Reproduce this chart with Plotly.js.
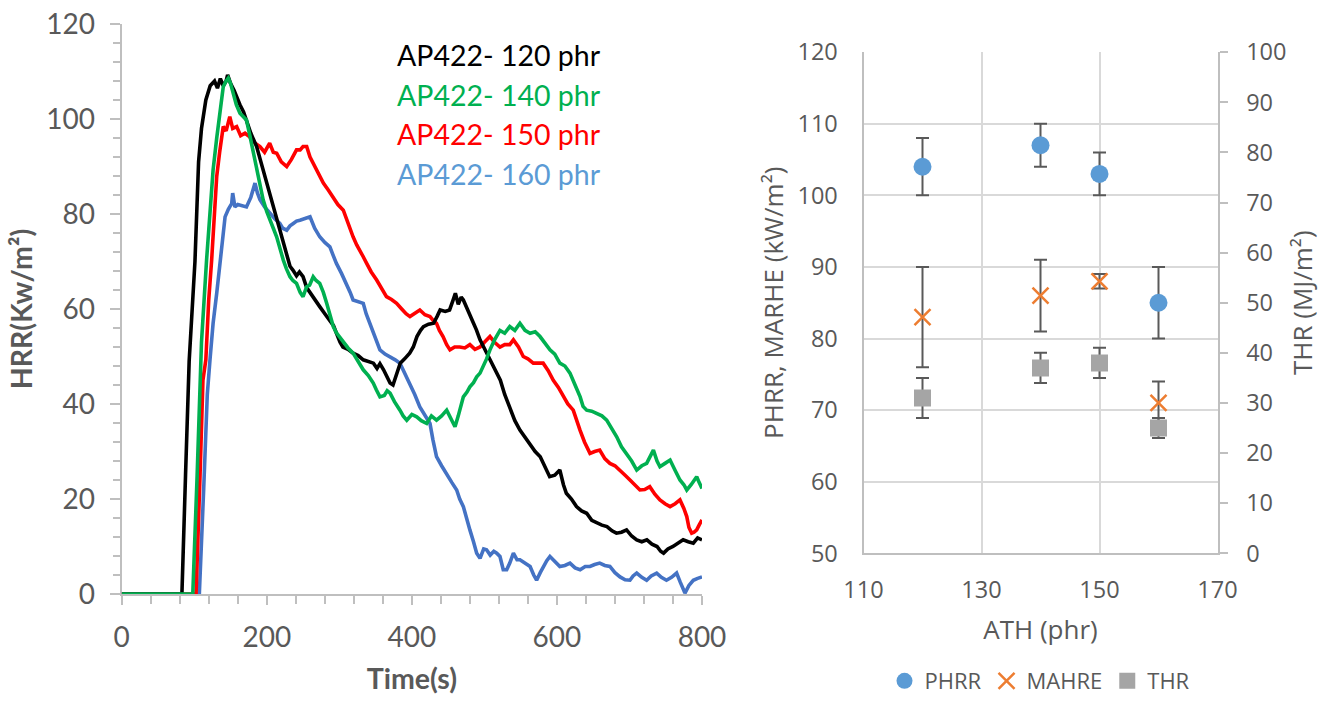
<!DOCTYPE html>
<html>
<head>
<meta charset="utf-8">
<script src="https://cdn.plot.ly/plotly-3.0.1.min.js"></script>
<style>
html,body{margin:0;padding:0;background:#fff;}
#chart{width:1328px;height:702px;}
</style>
</head>
<body>
<div id="chart"></div>
<script>
// ---------- Left panel: HRR curves ----------
const t120 = [0,83,88,93,101,106,110,116,122,128,132,136,140,144,146,150,155,160,163,168,172,178,186,190,195,200,204,210,218,222,227,232,236,241,245,250,255,260,266,273,280,287,292,296,301,305,312,319,326,333,340,347,352,356,361,366,370,374,378,384,390,397,402,407,412,416,423,430,435,439,446,452,456,460,464,468,471,476,480,485,489,494,499,504,508,515,522,528,535,542,549,556,563,570,577,584,590,597,604,609,613,620,627,634,641,648,655,662,669,676,682,689,696,703,710,717,724,731,738,743,747,753,760,767,774,781,788,794,800];
const hrr120 = [0,0,25,49,70,91,98,104,107,108,106.5,108.5,107,108,109.3,107.5,106,104,103,101.5,99.8,97,94.2,92,89.3,86.5,84.4,81,77.3,74.5,71.7,69,68.2,67,67.8,66.8,64.5,63.3,62,60.5,59,57.7,56.5,54.9,53,52,51.5,50.7,50.2,49.3,49,48.6,47.5,48.5,47.2,45.5,44.4,44,46,48.6,49.5,50.7,52,54.2,55.5,56.3,56.8,57,58.5,59.8,59.5,59.8,61.5,63.3,61,62.5,61.9,60,58.4,57,55.6,53.5,52,50.5,49.3,47,45,42,39.4,36.5,34.5,33,31.7,30,28.9,26.5,24.7,25,26.1,23,21.2,20,18.4,17.5,17,15.5,14.9,14.5,14.2,13.3,12.8,13,13.5,12.2,11.4,11,11.4,10.5,10,9,8.6,9.5,10,10.8,11.4,11,10.7,11.8,11.4];

const t140 = [0,98,104,110,117,121,126,131,135.5,140,144,147,150,154,158,163,168,172,176,181.5,186,190,195,200,204,209,213.6,218,222.8,227,232,236,241,246,250,255,259,264,268,273,278,282.6,287,291.7,296,301,305.5,312,319,326,333,340,346.8,351,356,362,366,370,376,383.6,388,393,400,406.7,413,420.5,427,434,441,448,454,459.5,464,471,476,480,485,489.4,494,498.5,503,507.7,514,521.5,528,535,542,549,556,563,570,576.7,583,590.4,597,604,611,618,625,632,636,641,648,655,662,668.6,675,682.4,689,696,703,710,717,723.7,728,733,738,742,749,756,763,769.6,775,779,785,792.7,796,800];
const hrr140 = [0,0,25,53,70.3,80,89.3,96,101.9,106.8,108,108.6,107.5,105.4,103,101.2,100.5,99.8,97,92.8,89.3,86,83,80.5,78.7,77,75.2,72.5,70.3,68.5,66.8,66,65.4,63.5,62.6,64.7,65,66.8,66,65.4,63.5,61.2,58.5,56.3,55,54,52.8,51.8,50.7,49,47.2,46,44.4,43,41.5,41.8,42.8,42.3,40.5,38.7,37.5,36.6,37.8,37.3,36.5,35.9,37.5,36.6,37.5,38.7,37,35.2,37.5,41.5,42.5,43.6,44.5,45.7,46.5,47.8,49.5,51.4,53.5,55.5,54.9,56.3,55.5,57,55.5,54.9,55.2,54.2,52.8,51.4,50.5,48.6,48,46.5,44,41.5,39.5,38.7,38.5,38,37.5,36.6,35,33.1,31,29.6,28,26.1,27,27.5,29,30.3,28,26.8,27.5,28.2,26,24,23,21.9,23,24.7,23.5,22.2];

const t150 = [0,102.5,108,112,116,120,124,128,131,135,138,140,144,149,153,158.5,164,170,176,183,190.6,197,204,209,213.7,220,227.5,234,241,246,250,255,259.6,264,271,278,285,291.7,298,305.5,312,319,324,328.5,333,337.7,344,351.5,358,365,372,379,386,392,397.4,404,411,418,425,430,434,438,443,448,452.6,459,466,473,480,487,494,500,507.7,514,521.5,528,535,540,547,553.6,560,567.4,574,581,588,595,602,608.8,615,622.5,627,631.8,638,645.6,652,659,666,673,680,687,694,700.7,707,714.4,721,728,735,742,749,756,763,769.6,775,779,782,785.8,789,792.7,796,800];
const hrr150 = [0,0,25,45,49.3,62,70.3,82,87.9,93,96.3,98.4,97.5,100.5,98,98.4,96.5,97,96.3,95,94.2,93,94.9,93,92.8,91,90,91.5,93.5,93.5,94.2,94.2,92,90.7,88.5,86.5,85,83.6,82,80.8,78,75.2,73.5,72.4,71,69.6,67.8,66.1,64.5,62.6,62,61.2,60,59,58.4,59,59.8,58.8,58.4,57.5,57,55.5,54.2,52.5,51.4,52,52,51.8,52.5,51.5,52,53,54.2,53,52,52.5,52.5,53.5,52,50,49.5,48.6,48.6,48.6,47,45,43.5,41.5,40,38.7,36.5,34.5,32,29.6,30,30.3,28.5,27.5,27,26.1,25,24,23,21.9,22,22.6,21,19.8,19,18.4,19,19.8,18,16.3,14,12.8,13,13.5,14.5,15.6];

const t160 = [0,107,113,118,121.7,126,131,136,142.5,147,151.6,153,156,160,166,172,178,183.8,187,190.6,197,204,211,218,222,227.5,232,236.6,241,245.7,252,259.6,266,273,280,287,291,296,303,310,315,319,326,333,337,342,349,356,363,370,377,383.6,390,397.4,404,411,418,425,429,434,441,448,455,461.8,466,471,476,480,485,489.4,494,499,503,508,513,517,521.5,526,530.7,535,540,545,549,556,563,568,572,577,581,586,590.4,597,604,611,618,625,632,639,645.6,652,659,666,673,680,687,694,700.7,705,710,717,723.7,730,737.5,744,751,758,765,770,776.5,782,788,794,800];
const hrr160 = [0,0,22,42,49.3,57,63.3,71,79.4,81,82.2,84.4,81.5,82,81.8,81.5,83.5,86.5,84.5,83,81.5,80.1,79,78,77,76.6,77.5,78,78.5,78.7,79,79.4,77,75.2,74,73.1,71.5,69.6,67.5,65.4,63.5,61.9,61.5,61.2,59,57,54,51.4,50.5,50,49.3,48.6,46.5,44.4,42,39.4,37.5,35.9,32.5,28.9,27,25.4,23.5,21.9,20,18.4,16,13.5,11,8.6,7.5,9.5,9.3,8.2,9,8.6,7.9,5.1,5.1,6.5,8.6,7.2,7.2,6.5,5.8,4,2.9,4.5,5.8,7,7.9,6.8,5.8,6,6.5,5.5,5.1,5.8,5.8,6.2,6.5,6,5.8,4.5,3.6,3,2.9,3.8,4.4,3.5,2.9,3.8,4.4,3.5,2.9,3.5,4.4,2.5,0.2,1.8,2.9,3.3,3.6];

const curveNames = ['AP422- 120 phr','AP422- 140 phr','AP422- 150 phr','AP422- 160 phr'];

// ---------- Right panel: PHRR / MAHRE / THR ----------
const ath = [120,140,150,160];
const phrr = [104,107,103,85];
const phrrErr = [4,3,3,5];
const mahre = [83,86,88,71];
const mahreErr = [7,5,1,3];
const thr = [31,37,38,25];
const thrErr = [4,3,3,2];

const leftFont = 'Lato, "Open Sans", sans-serif';
const rightFont = '"Open Sans", "Noto Sans", sans-serif';
const grey = '#595959';
const axisGrey = '#BFBFBF';
const lineColors = ['#000000','#00B050','#FF0000','#4472C4'];
const textColors = ['#000000','#00B050','#FF0000','#5B9BD5'];

const curveT = [t120,t140,t150,t160];
const curveV = [hrr120,hrr140,hrr150,hrr160];

const traces = [];
// drawing order: 160 (bottom), 150, 120, 140 (top)
[3,2,0,1].forEach(i => {
  traces.push({
    x: curveT[i], y: curveV[i], type: 'scatter', mode: 'lines',
    name: curveNames[i], xaxis: 'x', yaxis: 'y', showlegend: false,
    line: {color: lineColors[i], width: 3.6}, hoverinfo: 'skip'
  });
});
const errStyle = {type: 'data', symmetric: true, color: '#595959', thickness: 2, width: 6.5};
traces.push({
  x: ath, y: phrr, name: 'PHRR', type: 'scatter', mode: 'markers', xaxis: 'x2', yaxis: 'y2',
  marker: {symbol: 'circle', size: 18, color: '#5B9BD5'},
  error_y: Object.assign({array: phrrErr}, errStyle)
});
traces.push({
  x: ath, y: mahre, name: 'MAHRE', type: 'scatter', mode: 'markers', xaxis: 'x2', yaxis: 'y2',
  marker: {symbol: 'x-thin', size: 16, color: '#ED7D31', line: {color: '#ED7D31', width: 2.5}},
  error_y: Object.assign({array: mahreErr}, errStyle)
});
traces.push({
  x: ath, y: thr, name: 'THR', type: 'scatter', mode: 'markers', xaxis: 'x2', yaxis: 'y3',
  marker: {symbol: 'square', size: 17, color: '#A5A5A5'},
  error_y: Object.assign({array: thrErr}, errStyle)
});

const annotations = curveNames.map((n, i) => ({
  text: n, xref: 'paper', yref: 'paper', x: 395/1328, y: 1 - (55 + i*39.7)/702,
  xanchor: 'left', yanchor: 'middle', showarrow: false,
  font: {family: leftFont, size: 28.5, color: textColors[i]}
}));

const layout = {
  width: 1328, height: 702,
  margin: {l: 0, r: 0, t: 0, b: 0, autoexpand: false},
  paper_bgcolor: '#ffffff', plot_bgcolor: 'rgba(0,0,0,0)',
  showlegend: true,
  legend: {
    orientation: 'h', x: 1040/1328, xanchor: 'center', y: 0, yanchor: 'bottom',
    font: {family: rightFont, size: 22, color: grey}, itemwidth: 30, tracegroupgap: 0
  },
  annotations: annotations,
  xaxis: {
    domain: [121.7/1328, 702/1328], range: [0, 800], dtick: 200, anchor: 'y',
    showline: true, linecolor: axisGrey, linewidth: 2, showgrid: false, zeroline: false,
    ticks: 'outside', ticklen: 9, tickwidth: 2, tickcolor: axisGrey,
    minor: {dtick: 40, ticks: 'outside', ticklen: 8, tickwidth: 2, tickcolor: axisGrey, showgrid: false},
    tickfont: {family: leftFont, size: 28, color: grey}, ticklabelstandoff: 8,
    layer: 'below traces',
    title: {text: '<b>Time(s)</b>', font: {family: leftFont, size: 28.5, color: grey}, standoff: 17}
  },
  yaxis: {
    domain: [108/702, 678/702], range: [0, 120], dtick: 20, anchor: 'x',
    showline: true, linecolor: axisGrey, linewidth: 2, showgrid: false, zeroline: false,
    ticks: 'outside', ticklen: 10, tickwidth: 2, tickcolor: axisGrey,
    minor: {dtick: 4, ticks: 'outside', ticklen: 7, tickwidth: 2, tickcolor: axisGrey, showgrid: false},
    tickfont: {family: leftFont, size: 28, color: grey}, ticklabelstandoff: 9,
    layer: 'below traces',
    title: {text: '<b>HRR(Kw/m²)</b>', font: {family: leftFont, size: 28.5, color: grey}, standoff: 5}
  },
  xaxis2: {
    domain: [863.5/1328, 1217.5/1328], range: [110, 170], tick0: 110, dtick: 20, anchor: 'y2',
    showline: true, linecolor: axisGrey, linewidth: 2,
    showgrid: true, gridcolor: '#D9D9D9', gridwidth: 2, zeroline: false, ticks: '',
    tickfont: {family: rightFont, size: 23.5, color: grey}, ticklabelstandoff: 14,
    title: {text: 'ATH (phr)', font: {family: rightFont, size: 26, color: grey}, standoff: 17}
  },
  yaxis2: {
    domain: [148.7/702, 649.8/702], range: [50, 120], dtick: 10, anchor: 'x2',
    showline: true, linecolor: axisGrey, linewidth: 2,
    showgrid: true, gridcolor: '#D9D9D9', gridwidth: 2, zeroline: false, ticks: '',
    tickfont: {family: rightFont, size: 23.5, color: grey}, ticklabelstandoff: 19,
    title: {text: 'PHRR, MARHE (kW/m²)', font: {family: rightFont, size: 26, color: grey}, standoff: 6}
  },
  yaxis3: {
    domain: [148.7/702, 649.8/702], range: [0, 100], dtick: 10, anchor: 'x2',
    overlaying: 'y2', side: 'right',
    showline: true, linecolor: axisGrey, linewidth: 2, showgrid: false, zeroline: false,
    ticks: 'outside', ticklen: 8, tickwidth: 2, tickcolor: axisGrey,
    tickfont: {family: rightFont, size: 23.5, color: grey}, ticklabelstandoff: 14,
    title: {text: 'THR (MJ/m²)', font: {family: rightFont, size: 26, color: grey}, standoff: 8}
  }
};

Plotly.newPlot('chart', traces, layout, {staticPlot: true, displayModeBar: false});
</script>
</body>
</html>
